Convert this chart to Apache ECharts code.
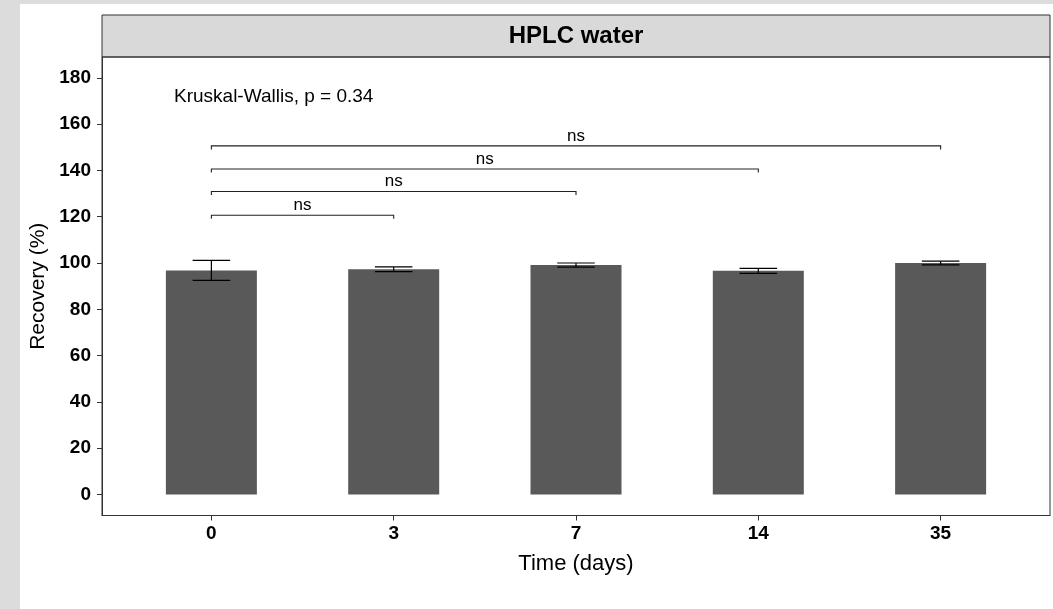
<!DOCTYPE html>
<html>
<head>
<meta charset="utf-8">
<script src="https://cdn.jsdelivr.net/npm/echarts@6/dist/echarts.min.js"></script>
<style>
html,body{margin:0;padding:0;width:1053px;height:609px;overflow:hidden;background:#dcdcdc;}
#paper{position:absolute;left:20px;top:4px;width:1033px;height:605px;background:#ffffff;}
#chart{position:absolute;left:0;top:0;width:1053px;height:609px;}
</style>
</head>
<body>
<div id="paper"></div>
<div id="chart"></div>
<script>
// ---- data ----
var days = ['0', '3', '7', '14', '35'];
var recoveryMean = [96.8, 97.3, 99.1, 96.6, 100.0];
var recoveryErr = [4.35, 1.0, 0.9, 1.1, 0.8];
var yTicks = [0, 20, 40, 60, 80, 100, 120, 140, 160, 180];
var bracketFrom = ['0', '0', '0', '0'];
var bracketTo = ['3', '7', '14', '35'];
var bracketY = [120.6, 130.9, 140.6, 150.6];
var bracketLabel = ['ns', 'ns', 'ns', 'ns'];
var panelTitle = 'HPLC water';
var testLabel = 'Kruskal-Wallis, p = 0.34';
var xTitle = 'Time (days)';
var yTitle = 'Recovery (%)';

var FONT = '"Liberation Sans", Arial, Helvetica, sans-serif';

// discrete positions 1..n on a continuous axis (ggplot-style discrete scale)
var xPos = days.map(function (d, i) { return i + 1; });
var barData = days.map(function (d, i) { return [xPos[i], recoveryMean[i]]; });
var errData = days.map(function (d, i) {
  return [xPos[i], recoveryMean[i] - recoveryErr[i], recoveryMean[i] + recoveryErr[i]];
});
var bracketData = bracketFrom.map(function (f, i) {
  return [xPos[days.indexOf(f)], xPos[days.indexOf(bracketTo[i])], bracketY[i]];
});

var chart = echarts.init(document.getElementById('chart'), null, {renderer: 'canvas'});
var option = {
  animation: false,
  backgroundColor: 'transparent',
  textStyle: {fontFamily: FONT},
  grid: [
    {left: 102, top: 57, width: 948, height: 458.5, show: true, backgroundColor: 'transparent', borderColor: '#333333', borderWidth: 1, z: 5},
    {left: 102, top: 15, width: 948, height: 42, show: true, backgroundColor: '#d9d9d9', borderColor: '#333333', borderWidth: 1}
  ],
  xAxis: [{
    gridIndex: 0, type: 'value', min: 0.4, max: xPos.length + 0.6,
    axisLine: {show: true, onZero: false, lineStyle: {color: '#333333', width: 1}},
    axisTick: {show: true, customValues: xPos, length: 5, lineStyle: {color: '#333333', width: 1}},
    axisLabel: {customValues: xPos, fontSize: 19, fontWeight: 'bold', color: '#000000', margin: 9, fontFamily: FONT,
      formatter: function (v) { return days[Math.round(v) - 1]; }},
    splitLine: {show: false},
    name: xTitle, nameLocation: 'middle', nameGap: 37,
    nameTextStyle: {fontSize: 22, color: '#000000', fontFamily: FONT}
  }],
  yAxis: [{
    gridIndex: 0, type: 'value', min: -9.1, max: 189.0,
    axisLine: {show: true, onZero: false, lineStyle: {color: '#333333', width: 1}},
    axisTick: {show: true, customValues: yTicks, length: 5, lineStyle: {color: '#333333', width: 1}},
    axisLabel: {customValues: yTicks, fontSize: 19, fontWeight: 'bold', color: '#000000', margin: 11, fontFamily: FONT},
    splitLine: {show: false},
    name: yTitle, nameLocation: 'middle', nameGap: 48, nameRotate: 90,
    nameTextStyle: {fontSize: 21, color: '#000000', fontFamily: FONT}
  }],
  graphic: [
    {type: 'text', x: 576, y: 36, style: {text: panelTitle, font: 'bold 24px ' + FONT, fill: '#000000', align: 'center', verticalAlign: 'middle'}, z: 10},
    {type: 'text', x: 174, y: 97, style: {text: testLabel, font: '19px ' + FONT, fill: '#000000', align: 'left', verticalAlign: 'middle'}, z: 10}
  ],
  series: [
    {
      type: 'bar', xAxisIndex: 0, yAxisIndex: 0, data: barData, barWidth: 91,
      itemStyle: {color: '#595959'}, z: 2
    },
    {
      type: 'custom', xAxisIndex: 0, yAxisIndex: 0, data: errData, z: 3,
      encode: {x: 0, y: [1, 2]},
      renderItem: function (params, api) {
        var lo = api.coord([api.value(0), api.value(1)]);
        var hi = api.coord([api.value(0), api.value(2)]);
        var hw = api.size([1, 0])[0] * 0.103;
        var st = {stroke: '#000000', lineWidth: 1.2};
        return {type: 'group', children: [
          {type: 'line', shape: {x1: hi[0], y1: hi[1], x2: lo[0], y2: lo[1]}, style: st},
          {type: 'line', shape: {x1: hi[0] - hw, y1: hi[1], x2: hi[0] + hw, y2: hi[1]}, style: st},
          {type: 'line', shape: {x1: lo[0] - hw, y1: lo[1], x2: lo[0] + hw, y2: lo[1]}, style: st}
        ]};
      }
    },
    {
      type: 'custom', xAxisIndex: 0, yAxisIndex: 0, data: bracketData, z: 4,
      encode: {x: [0, 1], y: 2},
      renderItem: function (params, api) {
        var a = api.coord([api.value(0), api.value(2)]);
        var b = api.coord([api.value(1), api.value(2)]);
        var tip = 3.5;
        var st = {stroke: '#222222', lineWidth: 1.1, fill: null};
        return {type: 'group', children: [
          {type: 'polyline', shape: {points: [[a[0], a[1] + tip], [a[0], a[1]], [b[0], b[1]], [b[0], b[1] + tip]]}, style: st},
          {type: 'text', style: {text: bracketLabel[params.dataIndex], x: (a[0] + b[0]) / 2, y: a[1] - 1.5,
            align: 'center', verticalAlign: 'bottom', font: '17px ' + FONT, fill: '#000000'}}
        ]};
      }
    }
  ]
};
chart.setOption(option);
</script>
</body>
</html>
